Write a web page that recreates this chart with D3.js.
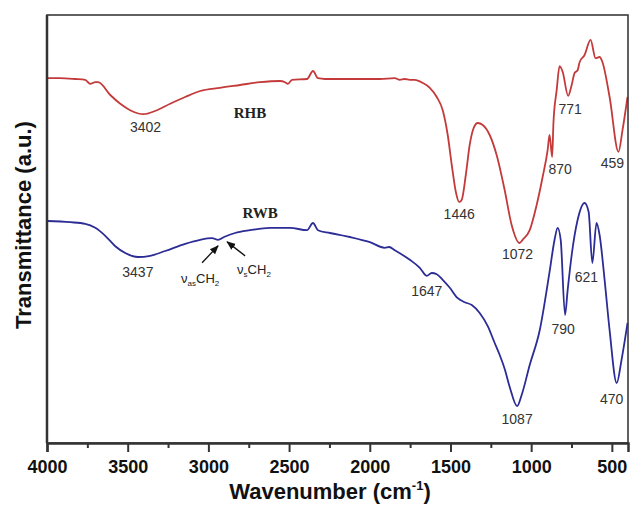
<!DOCTYPE html>
<html>
<head>
<meta charset="utf-8">
<script src="https://cdn.jsdelivr.net/npm/d3@7"></script>
<style>
  body { margin: 0; background: #fff; }
</style>
</head>
<body>
<div class="diagram"></div>
<script>
// FTIR spectra, wavenumber (cm-1) vs transmittance (a.u.)
const rhbWave = [4000, 3920, 3825, 3763, 3732, 3701, 3683, 3608, 3546, 3485, 3402, 3330, 3237, 3144, 3051, 2928, 2804, 2680, 2556, 2525, 2507, 2482, 2389, 2352, 2321, 2278, 2123, 1937, 1845, 1814, 1783, 1752, 1721, 1671, 1628, 1585, 1548, 1517, 1492, 1467, 1446, 1430, 1405, 1381, 1356, 1331, 1300, 1257, 1214, 1164, 1121, 1072, 1053, 1009, 966, 929, 898, 886, 870, 862, 842, 824, 805, 771, 749, 731, 712, 700, 669, 632, 601, 576, 558, 514, 459, 434, 403];
const rhbValue = [91.2, 91.2, 91, 90.8, 89.8, 90.2, 90.2, 87, 84.8, 83.2, 82.2, 83, 84.8, 86.5, 88, 88.8, 89.5, 90.2, 90.5, 90.2, 89.8, 90.8, 91, 93, 91.2, 91, 91, 91, 91.2, 90.8, 91, 90.8, 90.8, 90, 88.8, 86.5, 83.2, 77, 69.5, 62.8, 60.2, 60.8, 67, 74.5, 78.8, 80, 79.5, 77, 72, 63.2, 54.5, 50, 50.8, 53.2, 59.5, 66.5, 73.2, 77, 71.5, 80, 88.2, 94.2, 92.8, 86.8, 89.5, 92.5, 93.2, 95.2, 97, 100.8, 96.2, 96.5, 95.2, 86.5, 72.8, 78.2, 86.5];

const rwbWave = [4000, 3856, 3763, 3701, 3639, 3577, 3515, 3437, 3361, 3268, 3144, 3051, 2977, 2940, 2903, 2835, 2742, 2618, 2494, 2389, 2352, 2321, 2247, 2123, 1999, 1907, 1880, 1845, 1752, 1690, 1647, 1616, 1585, 1548, 1504, 1455, 1412, 1368, 1319, 1269, 1226, 1195, 1164, 1133, 1087, 1059, 1009, 947, 886, 855, 836, 817, 790, 774, 749, 712, 669, 644, 621, 595, 576, 545, 514, 470, 440, 403];
const rwbValue = [55.5, 55.2, 54.8, 53.8, 51.8, 49.2, 47.5, 46.5, 46.8, 48, 49.8, 50.8, 51.2, 50.8, 51.5, 52.5, 53.2, 53.8, 53.8, 53.2, 55, 53.2, 52.5, 51.5, 50.2, 48.8, 49, 48.2, 45.8, 43.8, 41.8, 42.5, 42.2, 40.8, 38.8, 36.2, 35.2, 34.5, 32.5, 29.2, 25, 22, 18.5, 14, 9.2, 12, 19.5, 28.2, 42.8, 50.8, 53.8, 50.8, 32, 38.2, 47, 55.8, 60, 57.8, 45, 55, 52, 40.8, 28.2, 15, 20.8, 30];

const xTicks = [4000, 3500, 3000, 2500, 2000, 1500, 1000, 500];
const xMinorTicks = [3750, 3250, 2750, 2250, 1750, 1250, 750];

// labelled band positions
const rhbPeaks = [3402, 1446, 1072, 870, 771, 459];
const rwbPeaks = [3437, 1647, 1087, 790, 621, 470];
// CH2 stretching bands marked on RWB
const ch2Bands = [2940, 2884];

const margin = {top: 15, left: 47};
const W = 630, H = 508;
const plotW = 581, plotH = 428;
const sans = "Arial, 'Liberation Sans', sans-serif";
const serif = "'Times New Roman', 'Liberation Serif', serif";

const svg = d3.select(".diagram").append("svg")
    .attr("width", W)
    .attr("height", H)
    .style("font-family", sans);

const x = d3.scaleLinear().domain([4000, 400]).range([margin.left, margin.left + plotW]);
const y = d3.scaleLinear().domain([0, 107]).range([margin.top + plotH, margin.top]);

function valueAt(waves, vals, w){
    for (let i = 0; i < waves.length - 1; i++){
        if (waves[i] >= w && waves[i+1] <= w){
            const t = (waves[i] - w) / (waves[i] - waves[i+1]);
            return vals[i] + t * (vals[i+1] - vals[i]);
        }
    }
    return vals[vals.length - 1];
}

const line = d3.line()
    .x(d => x(d[0]))
    .y(d => y(d[1]))
    .curve(d3.curveMonotoneX);

const series = [
    {name: "RHB", waves: rhbWave, vals: rhbValue, color: "#c43a3a"},
    {name: "RWB", waves: rwbWave, vals: rwbValue, color: "#2c2c96"}
];

series.forEach(s => {
    svg.append("path")
        .datum(s.waves.map((w, i) => [w, s.vals[i]]))
        .attr("fill", "none")
        .attr("stroke", s.color)
        .attr("stroke-width", 1.8)
        .attr("stroke-linejoin", "round")
        .attr("d", line);
});

// frame
svg.append("rect")
    .attr("x", margin.left).attr("y", margin.top)
    .attr("width", plotW).attr("height", plotH)
    .attr("fill", "none")
    .attr("stroke", "#3a3a3a")
    .attr("stroke-width", 1.6);

svg.append("line")
    .attr("x1", margin.left).attr("x2", margin.left)
    .attr("y1", margin.top).attr("y2", margin.top + plotH)
    .attr("stroke", "#333").attr("stroke-width", 2.5);

// x axis
const xAxis = svg.append("g")
    .attr("transform", `translate(0,${margin.top + plotH})`)
    .call(d3.axisBottom(x).tickValues(xTicks).tickFormat(d3.format("d")).tickSize(9).tickPadding(8));
xAxis.select(".domain").attr("stroke", "#333").attr("stroke-width", 2.5);
xAxis.selectAll(".tick line").attr("stroke", "#333").attr("stroke-width", 2);
xAxis.selectAll(".tick text")
    .style("font-family", sans)
    .style("font-size", "18px")
    .style("font-weight", "bold")
    .attr("fill", "#111");

const xMinor = svg.append("g")
    .attr("transform", `translate(0,${margin.top + plotH})`)
    .call(d3.axisBottom(x).tickValues(xMinorTicks).tickSize(5).tickFormat(""));
xMinor.select(".domain").remove();
xMinor.selectAll(".tick line").attr("stroke", "#333").attr("stroke-width", 2);

// axis titles
const xTitle = svg.append("text")
    .attr("x", 330).attr("y", 499)
    .attr("text-anchor", "middle")
    .style("font-size", "22px")
    .style("font-weight", "bold")
    .attr("fill", "#111");
xTitle.append("tspan").text("Wavenumber (cm");
xTitle.append("tspan").style("font-size", "13px").attr("dy", -9).text("-1");
xTitle.append("tspan").attr("dy", 9).text(")");

svg.append("text")
    .attr("transform", "translate(31,225) rotate(-90)")
    .attr("text-anchor", "middle")
    .style("font-size", "22px")
    .style("font-weight", "bold")
    .attr("fill", "#111")
    .text("Transmittance (a.u.)");

// band labels under each dip
const rhbShift = [[2, 18], [0, 17], [-2, 16], [8, 17], [2, 18], [-6, 16]];
const rwbShift = [[0, 20], [0, 20], [0, 18], [-2, 19], [-6, 19], [-5, 21]];

function peakLabels(peaks, shifts, waves, vals){
    svg.append("g").selectAll("text")
        .data(peaks)
        .join("text")
        .attr("x", (d, i) => x(d) + shifts[i][0])
        .attr("y", (d, i) => y(valueAt(waves, vals, d)) + shifts[i][1])
        .attr("text-anchor", "middle")
        .style("font-size", "14px")
        .attr("fill", "#333")
        .text(d => d);
}
peakLabels(rhbPeaks, rhbShift, rhbWave, rhbValue);
peakLabels(rwbPeaks, rwbShift, rwbWave, rwbValue);

// sample names
svg.append("text")
    .attr("x", x(2742)).attr("y", y(81.2))
    .attr("text-anchor", "middle")
    .style("font-family", serif)
    .style("font-weight", "bold").style("font-size", "15px")
    .attr("fill", "#222")
    .text("RHB");
svg.append("text")
    .attr("x", x(2680)).attr("y", y(56.2))
    .attr("text-anchor", "middle")
    .style("font-family", serif)
    .style("font-weight", "bold").style("font-size", "15px")
    .attr("fill", "#222")
    .text("RWB");

// CH2 arrows
svg.append("defs").append("marker")
    .attr("id", "arrow")
    .attr("viewBox", "0 0 10 10")
    .attr("refX", 9).attr("refY", 5)
    .attr("markerWidth", 7).attr("markerHeight", 7)
    .attr("orient", "auto")
    .append("path")
    .attr("d", "M0,1 L10,5 L0,9 Z")
    .attr("fill", "#111");

const tips = ch2Bands.map(w => [x(w), y(valueAt(rwbWave, rwbValue, w)) + 6]);
const tails = [[-16, 17], [18, 14]];
tips.forEach((t, i) => {
    svg.append("line")
        .attr("x1", t[0] + tails[i][0]).attr("y1", t[1] + tails[i][1])
        .attr("x2", t[0]).attr("y2", t[1])
        .attr("stroke", "#111").attr("stroke-width", 1.3)
        .attr("marker-end", "url(#arrow)");
});

const asLabel = svg.append("text")
    .attr("x", tips[0][0] - 37).attr("y", tips[0][1] + 37)
    .style("font-size", "13px").attr("fill", "#222");
asLabel.append("tspan").text("\u03bd");
asLabel.append("tspan").style("font-size", "8px").attr("dy", 3).text("as");
asLabel.append("tspan").attr("dy", -3).text("CH");
asLabel.append("tspan").style("font-size", "8px").attr("dy", 3).text("2");

const sLabel = svg.append("text")
    .attr("x", tips[1][0] + 10).attr("y", tips[1][1] + 32)
    .style("font-size", "13px").attr("fill", "#222");
sLabel.append("tspan").text("\u03bd");
sLabel.append("tspan").style("font-size", "8px").attr("dy", 3).text("s");
sLabel.append("tspan").attr("dy", -3).text("CH");
sLabel.append("tspan").style("font-size", "8px").attr("dy", 3).text("2");
</script>
</body>
</html>
